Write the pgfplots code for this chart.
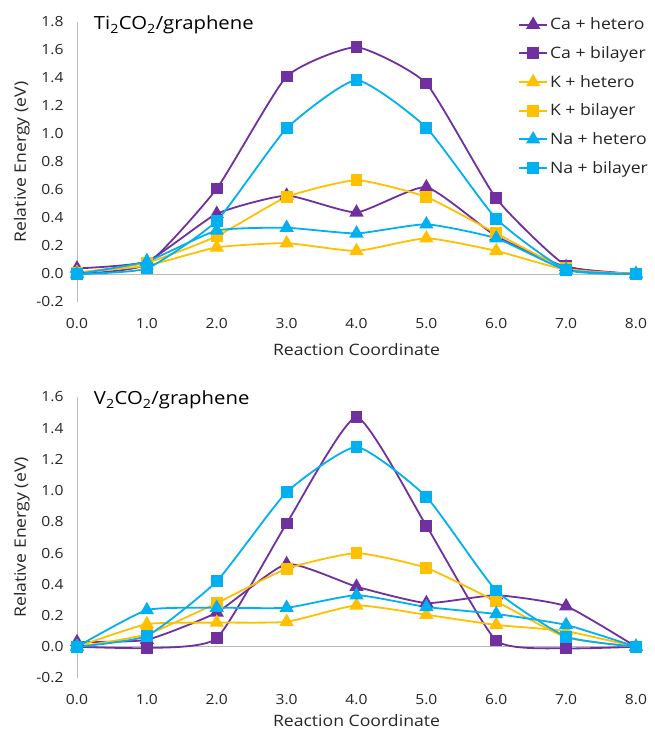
\documentclass[border=0pt]{standalone}
\usepackage{fontspec}
\setmainfont{Open Sans}[FakeStretch=1.12]
\usepackage{pgfplots}
\pgfplotsset{compat=1.18}
\definecolor{cpurple}{HTML}{7030A0}
\definecolor{cgold}{HTML}{FFC000}
\definecolor{cblue}{HTML}{00B0F0}
\definecolor{txt}{HTML}{262626}
\pgfplotsset{
  mystyle/.style={
    scale only axis, width=559bp,
    xmin=0, xmax=8,
    clip=false,
    axis lines=left,
    x axis line style={draw=none},
    y axis line style={draw=gray!55, line width=0.8bp, -},
    major tick length=0pt,
    xtick={0,1,...,8},
    /pgf/number format/assume math mode=true,
    /pgf/number format/fixed, /pgf/number format/fixed zerofill, /pgf/number format/precision=1,
    tick label style={font=\fontsize{14}{16}\selectfont, text=txt},
    yticklabel style={xshift=-10bp},
    xticklabel style={yshift=-13bp},
    extra y ticks={0}, extra y tick labels={},
    extra y tick style={grid=major, major grid style={draw=gray!55, line width=0.8bp}},
    label style={font=\fontsize{15.8}{18}\selectfont, text=txt},
    xlabel={Reaction Coordinate},
    ylabel={Relative Energy (eV)},
    ylabel style={yshift=0bp},
    every axis plot/.append style={smooth, tension=0.3, line width=1.8bp},
    legend image code/.code={\draw[#1, mark repeat=2, mark phase=2] plot coordinates {(0bp,0bp) (14bp,0bp) (28bp,0bp)};},
  },
  tri/.style={mark=triangle*, mark size=6.5bp, mark options={solid}},
  sq/.style={mark=square*, mark size=5bp, mark options={solid}},
}
\begin{document}
\begin{tikzpicture}
\useasboundingbox (-77bp,-431bp) rectangle (578bp,302bp);
% Top axis
\begin{axis}[mystyle, height=280bp, ymin=-0.2, ymax=1.8, ytick={-0.2,0,...,1.8},
  at={(0,0)}, anchor=south west,
  xlabel style={yshift=-8bp},
  legend style={at={(0.789,1.022)}, anchor=north west, draw=none, fill=none,
    font=\fontsize{15.8}{18}\selectfont, text=txt, row sep=11.2bp,
    legend cell align=left, inner sep=0pt, /tikz/every even column/.append style={column sep=2bp}},
]
\addplot[cpurple, tri] coordinates {(0,0.04) (1,0.09) (2,0.43) (3,0.56) (4,0.44) (5,0.62) (6,0.27) (7,0.05) (8,0.0)};
\addlegendentry{Ca + hetero}
\addplot[cpurple, sq] coordinates {(0,0.0) (1,0.07) (2,0.61) (3,1.41) (4,1.62) (5,1.36) (6,0.54) (7,0.06) (8,0.0)};
\addlegendentry{Ca + bilayer}
\addplot[cgold, tri] coordinates {(0,0.01) (1,0.06) (2,0.19) (3,0.22) (4,0.165) (5,0.255) (6,0.165) (7,0.03) (8,0.0)};
\addlegendentry{K + hetero}
\addplot[cgold, sq] coordinates {(0,0.01) (1,0.08) (2,0.27) (3,0.55) (4,0.67) (5,0.55) (6,0.29) (7,0.04) (8,0.0)};
\addlegendentry{K + bilayer}
\addplot[cblue, tri] coordinates {(0,0.0) (1,0.09) (2,0.31) (3,0.33) (4,0.29) (5,0.355) (6,0.255) (7,0.03) (8,0.0)};
\addlegendentry{Na + hetero}
\addplot[cblue, sq] coordinates {(0,0.0) (1,0.04) (2,0.38) (3,1.04) (4,1.385) (5,1.045) (6,0.395) (7,0.03) (8,0.0)};
\addlegendentry{Na + bilayer}
\node[anchor=west, font=\fontsize{18.2}{22}\selectfont, text=black] at (rel axis cs:0.024,0.989) {Ti\textsubscript{2}CO\textsubscript{2}/graphene};
\end{axis}
% Bottom axis
\begin{axis}[mystyle, height=281bp, ymin=-0.2, ymax=1.6, ytick={-0.2,0,...,1.6},
  at={(0,-376bp)}, anchor=south west,
  xlabel style={yshift=-3bp},
]
\addplot[cpurple, tri] coordinates {(0,0.03) (1,0.045) (2,0.22) (3,0.53) (4,0.385) (5,0.28) (6,0.33) (7,0.26) (8,0.0)};
\addplot[cpurple, sq] coordinates {(0,0.0) (1,-0.008) (2,0.055) (3,0.79) (4,1.47) (5,0.775) (6,0.04) (7,-0.01) (8,0.0)};
\addplot[cgold, tri] coordinates {(0,0.0) (1,0.145) (2,0.155) (3,0.16) (4,0.265) (5,0.205) (6,0.14) (7,0.10) (8,0.0)};
\addplot[cgold, sq] coordinates {(0,0.0) (1,0.08) (2,0.28) (3,0.50) (4,0.60) (5,0.505) (6,0.29) (7,0.06) (8,0.0)};
\addplot[cblue, tri] coordinates {(0,0.0) (1,0.235) (2,0.25) (3,0.25) (4,0.33) (5,0.255) (6,0.21) (7,0.14) (8,0.0)};
\addplot[cblue, sq] coordinates {(0,0.0) (1,0.07) (2,0.42) (3,0.99) (4,1.28) (5,0.96) (6,0.36) (7,0.065) (8,0.0)};
\node[anchor=west, font=\fontsize{18.2}{22}\selectfont, text=black] at (rel axis cs:0.024,0.989) {V\textsubscript{2}CO\textsubscript{2}/graphene};
\end{axis}
\end{tikzpicture}
\end{document}
